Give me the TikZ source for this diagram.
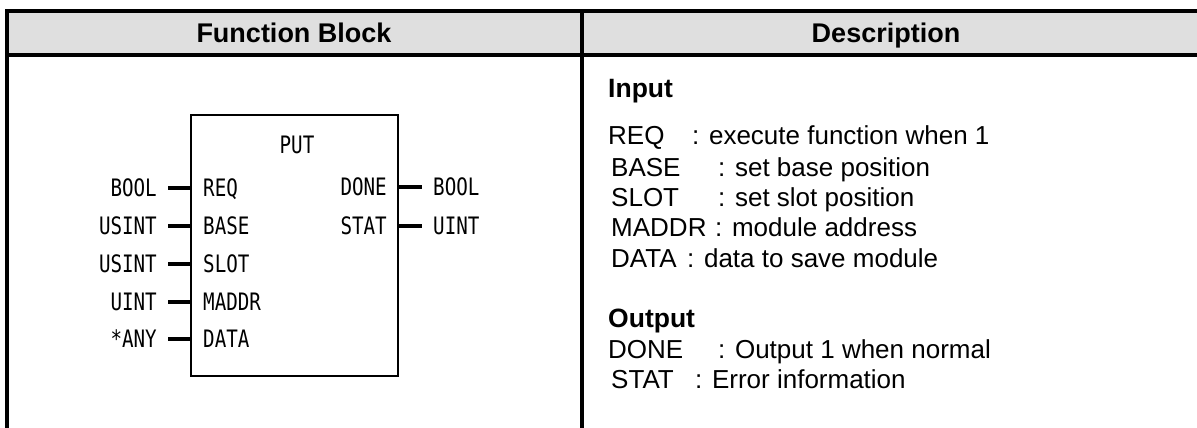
\documentclass[tikz,border=0pt]{standalone}
\usepackage{fontspec}
\setmainfont{Liberation Sans}
\newfontfamily\blockfont{DejaVu Sans Mono}[FakeStretch=0.8]
\definecolor{headgray}{RGB}{223,223,223}

\begin{document}
\begin{tikzpicture}[x=1pt, y=-1pt,
  hdr/.style={font=\fontsize{27}{30}\selectfont\bfseries, anchor=base, inner sep=0pt},
  sect/.style={font=\fontsize{26.5}{30}\selectfont\bfseries, anchor=base west, inner sep=0pt},
  desc/.style={font=\fontsize{26}{30}\selectfont, anchor=base west, inner sep=0pt},
  pin/.style={font=\blockfont\fontsize{24}{28}\selectfont, inner sep=0pt},
  pinline/.style={line width=3.5pt},
  rule/.style={line width=4pt}]
  \useasboundingbox (0,0) rectangle (1197,428);
  % cabecera de la tabla
  \fill[headgray] (7,12) rectangle (1197,55);
  \draw[rule] (5,11.5) -- (1197,11.5);
  \draw[rule] (5,55) -- (1197,55);
  \draw[rule] (7,10) -- (7,428);
  \draw[rule] (582,10) -- (582,428);
  \node[hdr] (hfb) at (294,42.5) {Function Block};
  \node[hdr] (hdesc) at (886,42.5) {Description};
  % bloque de funcion
  \node[draw, line width=2pt, minimum width=207, minimum height=261] (fb) at (294.5,245.5) {};
  \node[pin, anchor=base] (fname) at (297,153) {PUT};
  % entradas
  \foreach \y/\p/\t/\n in {188/REQ/BOOL/req, 226/BASE/USINT/base, 264/SLOT/USINT/slot,
                          302/MADDR/UINT/maddr, 339/DATA/*ANY/data} {
    \node[pin, anchor=base east] (t\n) at (157,\y+8.5) {\t};
    \node[pin, anchor=base west] (p\n) at (203,\y+8.5) {\p};
    \coordinate (l\n) at (168,\y);
    \draw[pinline] (l\n) -- (l\n -| fb.west);
  }
  % salidas
  \foreach \y/\p/\t/\n in {187/DONE/BOOL/done, 226/STAT/UINT/stat} {
    \node[pin, anchor=base west] (t\n) at (433,\y+8.5) {\t};
    \node[pin, anchor=base east] (p\n) at (387,\y+8.5) {\p};
    \coordinate (r\n) at (422,\y);
    \draw[pinline] (r\n -| fb.east) -- (r\n);
  }
  % descripcion
  \node[sect] (sin) at (608,97) {Input};
  \node[sect] (sout) at (608,327) {Output};
  \foreach \y/\x/\c/\p/\d/\n in {144/608/692/REQ/execute function when 1/req,
      176/611/718/BASE/set base position/base, 206/611/718/SLOT/set slot position/slot,
      236/611/715/MADDR/module address/maddr, 267/611/687/DATA/data to save module/data,
      358/608/718/DONE/Output 1 when normal/done, 388/611/695/STAT/Error information/stat} {
    \node[desc] (d\n) at (\x,\y) {\p};
    \node[desc] (e\n) at (\c,\y) {: \d};
  }
\end{tikzpicture}
\end{document}
